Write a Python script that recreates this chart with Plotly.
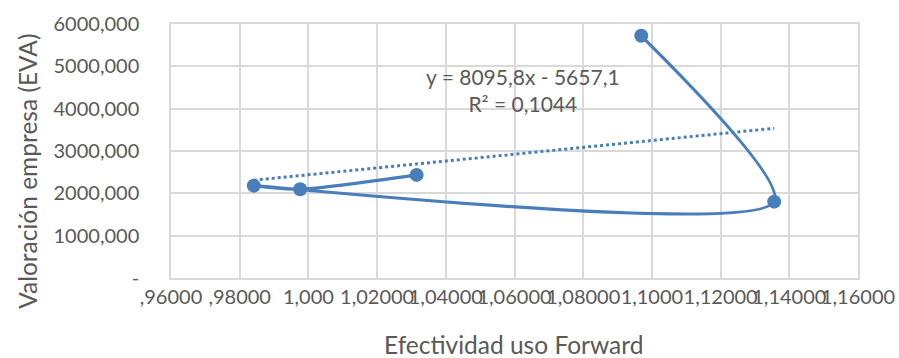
import plotly.graph_objects as go
import numpy as np

# Data
efectividad = [1.0315, 0.9976, 0.9841, 1.1356, 1.0969]
valoracion = [2435, 2097, 2182, 1804, 5721]

# Trendline reported on the chart
trend_slope = 8095.8
trend_intercept = -5657.1
trend_label = "y = 8095,8x - 5657,1<br>R² = 0,1044"

x_tickvals = [0.96, 0.98, 1.00, 1.02, 1.04, 1.06, 1.08, 1.10, 1.12, 1.14, 1.16]
x_ticktext = [",96000", ",98000", "1,000", "1,02000", "1,04000", "1,06000",
              "1,08000", "1,1000", "1,12000", "1,14000", "1,16000"]
y_tickvals = [0, 1000, 2000, 3000, 4000, 5000, 6000]
y_ticktext = ["-", "1000,000", "2000,000", "3000,000", "4000,000", "5000,000", "6000,000"]

BLUE = "#4a7ebb"
GREY = "#595959"
GRID = "#d9d9d9"
FONT = "Lato"

tx = np.array([min(efectividad), max(efectividad)])
ty = trend_slope * tx + trend_intercept

fig = go.Figure()
fig.add_trace(go.Scatter(
    x=tx, y=ty, mode="lines",
    line=dict(color=BLUE, width=3, dash="dot"),
    showlegend=False, hoverinfo="skip"))
fig.add_trace(go.Scatter(
    x=efectividad, y=valoracion, mode="lines+markers",
    line=dict(color=BLUE, width=3.2, shape="spline", smoothing=0.7),
    marker=dict(color=BLUE, size=14),
    showlegend=False))

fig.add_annotation(
    x=1.0625, y=4444, xref="x", yref="y", text=trend_label, showarrow=False,
    font=dict(family=FONT, size=21, color=GREY), align="center")

# axis titles
fig.add_annotation(
    x=0.498, y=-0.262, xref="paper", yref="paper", text="Efectividad uso Forward",
    showarrow=False, xanchor="center", yanchor="middle",
    font=dict(family=FONT, size=24.5, color=GREY))
fig.add_annotation(
    x=-0.21, y=0.421, xref="paper", yref="paper", text="Valoración empresa (EVA)",
    showarrow=False, xanchor="center", yanchor="middle", textangle=-90,
    font=dict(family=FONT, size=24.5, color=GREY))

fig.update_layout(
    width=899, height=358,
    margin=dict(l=171, r=41, t=24, b=80, autoexpand=False),
    paper_bgcolor="white", plot_bgcolor="white",
    font=dict(family=FONT, size=20, color=GREY),
    xaxis=dict(
        range=[0.96, 1.16], tickvals=x_tickvals, ticktext=x_ticktext,
        showgrid=True, gridcolor=GRID, gridwidth=1.5,
        showline=True, linecolor=GRID, linewidth=1.5, mirror=True,
        zeroline=False, ticks="", tickangle=0, automargin=False,
        ticklabelstandoff=0,
        tickfont=dict(family=FONT, size=20, color=GREY)),
    yaxis=dict(
        range=[0, 6000], tickvals=y_tickvals, ticktext=y_ticktext,
        showgrid=True, gridcolor=GRID, gridwidth=1.5,
        showline=True, linecolor=GRID, linewidth=1.5, mirror=True,
        zeroline=False, ticks="", automargin=False,
        ticklabelstandoff=26,
        tickfont=dict(family=FONT, size=20, color=GREY)),
)

fig.write_html("out.html")
